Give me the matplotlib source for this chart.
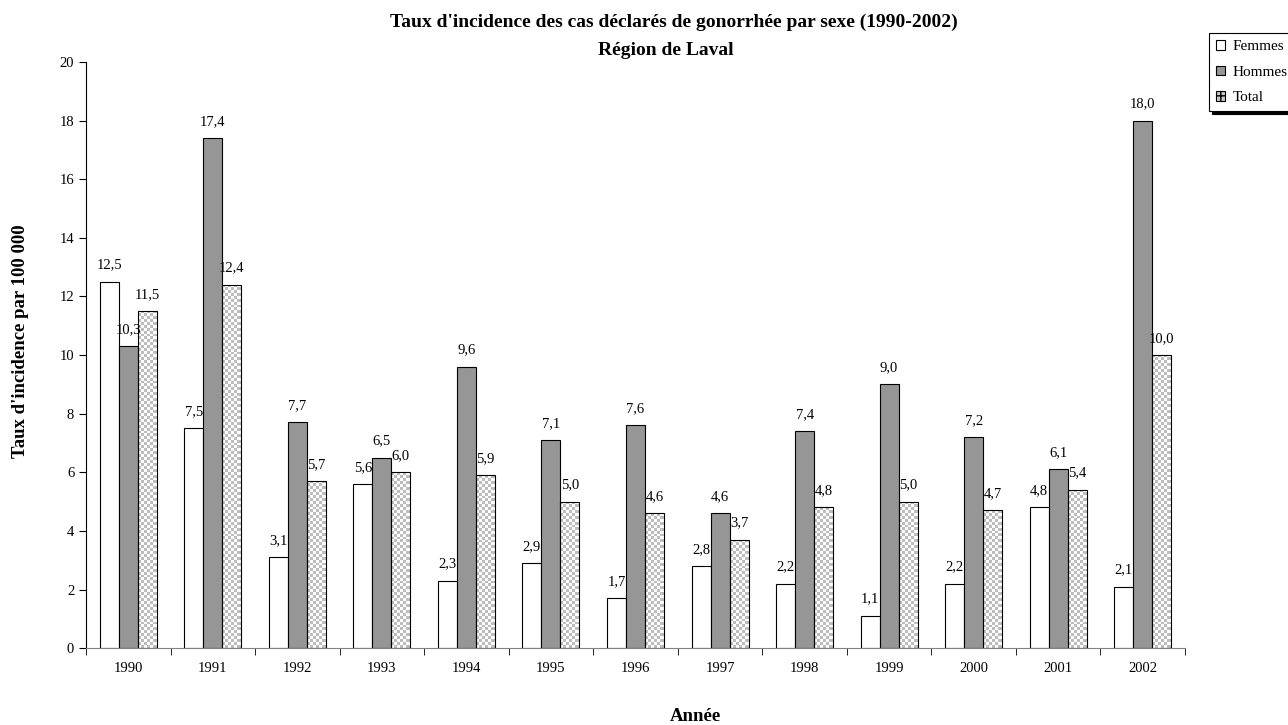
import numpy as np
import matplotlib.pyplot as plt
from matplotlib.colors import ListedColormap

plt.rcParams['font.family'] = ['Liberation Serif', 'DejaVu Serif']

annees = ['1990', '1991', '1992', '1993', '1994', '1995', '1996',
          '1997', '1998', '1999', '2000', '2001', '2002']
femmes = [12.5, 7.5, 3.1, 5.6, 2.3, 2.9, 1.7, 2.8, 2.2, 1.1, 2.2, 4.8, 2.1]
hommes = [10.3, 17.4, 7.7, 6.5, 9.6, 7.1, 7.6, 4.6, 7.4, 9.0, 7.2, 6.1, 18.0]
total = [11.5, 12.4, 5.7, 6.0, 5.9, 5.0, 4.6, 3.7, 4.8, 5.0, 4.7, 5.4, 10.0]

fig = plt.figure(figsize=(12.88, 7.25), dpi=100)
ax = fig.add_axes([0.0668, 0.106, 0.8532, 0.8085])

x = np.arange(len(annees))
w = 0.225
b1 = ax.bar(x - w, femmes, w, color='white', edgecolor='black', linewidth=0.8, label='Femmes')
b2 = ax.bar(x, hommes, w, color='#969696', edgecolor='black', linewidth=0.8, label='Hommes')
b3 = ax.bar(x + w, total, w, color='white', edgecolor='black', linewidth=0.8, label='Total')

ax.set_xlim(-0.5, len(annees) - 0.5)
ax.set_ylim(0, 20)

# checkered fill for the "Total" bars, clipped to each bar
ny, nx = 200, int(len(annees) * 28)
yy, xx = np.mgrid[0:ny, 0:nx]
checker = ((yy + xx) % 2).astype(float)
cmap_chk = ListedColormap(['#bdbdbd', 'white'])
for rect in b3:
    im = ax.imshow(checker, extent=(-0.5, len(annees) - 0.5, 0, 20), origin='lower',
                   cmap=cmap_chk, vmin=0, vmax=1, interpolation='nearest',
                   aspect='auto', zorder=rect.get_zorder() - 0.1)
    im.set_clip_path(rect)
    rect.set_facecolor('none')

def fmt(v):
    return f'{v:.1f}'.replace('.', ',')

for bars, vals in [(b1, femmes), (b2, hommes), (b3, total)]:
    for rect, v in zip(bars, vals):
        ax.text(rect.get_x() + rect.get_width() / 2, v + 0.35, fmt(v),
                ha='center', va='bottom', fontsize=10.5)

ax.set_yticks(range(0, 21, 2))
ax.set_xticks(x)
ax.set_xticklabels(annees)
ax.set_xticks(np.arange(-0.5, len(annees), 1), minor=True)
ax.tick_params(axis='x', which='major', length=0, pad=10, labelsize=10.5)
ax.tick_params(axis='x', which='minor', length=5, direction='out')
ax.tick_params(axis='y', length=5, direction='out', labelsize=10.5)
ax.spines['top'].set_visible(False)
ax.spines['right'].set_visible(False)
ax.spines['bottom'].set_color('#808080')

fig.text(0.016, 0.53, "Taux d'incidence par 100 000", rotation=90, ha='center', va='center',
         fontsize=13.5, fontweight='bold')
fig.text(0.54, 0.0124, 'Année', ha='center', va='center', fontsize=13.5, fontweight='bold')
fig.text(0.523, 0.981, "Taux d'incidence des cas déclarés de gonorrhée par sexe (1990-2002)",
         ha='center', va='top', fontsize=14, fontweight='bold')
fig.text(0.517, 0.942, 'Région de Laval',
         ha='center', va='top', fontsize=14, fontweight='bold')

leg = ax.legend(handles=[b1, b2, b3], loc='upper left', bbox_to_anchor=(1.022, 1.049),
                fontsize=11, frameon=True, fancybox=False,
                shadow={'facecolor': 'black', 'edgecolor': 'black', 'alpha': 1},
                handlelength=0.6, handleheight=0.6, handletextpad=0.5,
                borderpad=0.45, labelspacing=0.8, borderaxespad=0)
leg.get_frame().set_edgecolor('black')
leg.get_frame().set_linewidth(0.8)
leg.legend_handles[2].set_hatch('++')
leg.legend_handles[2].set_facecolor('#c8c8c8')

fig.savefig('out.png', dpi=100)
